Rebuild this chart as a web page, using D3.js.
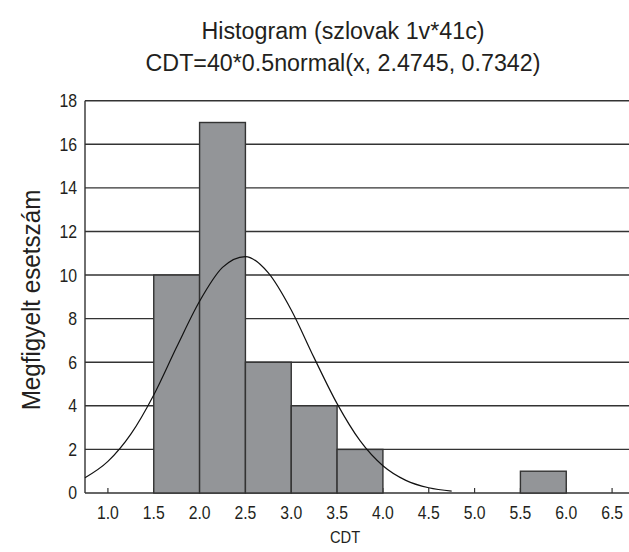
<!DOCTYPE html>
<html>
<head>
<meta charset="utf-8">
<script src="https://cdn.jsdelivr.net/npm/d3@7"></script>
<style>
  body { margin: 0; background: #fff; }
  svg { display: block; }
  text { font-family: "Liberation Sans Narrow", "Arial Narrow", "Liberation Sans", sans-serif; fill: #231f20; }
</style>
</head>
<body>
<div id="chart"></div>
<script>
// histogram bins (lower edge, upper edge, count)
const binStart = [1.5, 2.0, 2.5, 3.0, 3.5, 5.5]
const binEnd = [2.0, 2.5, 3.0, 3.5, 4.0, 6.0]
const counts = [10, 17, 6, 4, 2, 1]

// fitted normal curve
const curveX = [0.75, 1.0, 1.25, 1.5, 1.75, 2.0, 2.25, 2.5, 2.75, 3.0, 3.25, 3.5, 3.75, 4.0, 4.25, 4.5, 4.75]
const curveY = [0.7, 1.45, 2.7, 4.5, 6.7, 8.8, 10.35, 10.85, 10.1, 8.4, 6.2, 4.1, 2.4, 1.25, 0.58, 0.24, 0.09]

const xTicks = [1.0, 1.5, 2.0, 2.5, 3.0, 3.5, 4.0, 4.5, 5.0, 5.5, 6.0, 6.5]
const yTicks = [0, 2, 4, 6, 8, 10, 12, 14, 16, 18]

const width = 629, height = 552

const svg = d3.select("#chart").append("svg")
    .attr("width", width)
    .attr("height", height)

const x = d3.scaleLinear().domain([0.75, 6.75]).range([85, 635])
const y = d3.scaleLinear().domain([0, 18]).range([493, 100.7])

// gridlines
svg.append("g")
    .selectAll("line")
    .data(yTicks)
    .join("line")
    .attr("x1", x(0.75))
    .attr("x2", width)
    .attr("y1", d => y(d))
    .attr("y2", d => y(d))
    .attr("stroke", "#333")
    .attr("stroke-width", 1.4)

// y labels (slightly condensed like the original)
svg.append("g")
    .selectAll("text")
    .data(yTicks)
    .join("text")
    .attr("transform", d => `translate(77,${y(d)}) scale(0.88,1)`)
    .attr("dy", "0.36em")
    .attr("text-anchor", "end")
    .style("font-size", "18px")
    .text(d => d)

// y axis line
svg.append("line")
    .attr("x1", x(0.75)).attr("x2", x(0.75))
    .attr("y1", y(18)).attr("y2", y(0))
    .attr("stroke", "#333")
    .attr("stroke-width", 1.4)

// x ticks (inside)
svg.append("g")
    .selectAll("line")
    .data(xTicks)
    .join("line")
    .attr("x1", d => x(d)).attr("x2", d => x(d))
    .attr("y1", y(0)).attr("y2", y(0) - 5)
    .attr("stroke", "#333")
    .attr("stroke-width", 1.2)

// bars
svg.append("g")
    .selectAll("rect")
    .data(counts)
    .join("rect")
    .attr("x", (d, i) => x(binStart[i]))
    .attr("width", (d, i) => x(binEnd[i]) - x(binStart[i]))
    .attr("y", d => y(d))
    .attr("height", d => y(0) - y(d))
    .attr("fill", "#939598")
    .attr("stroke", "#333")
    .attr("stroke-width", 1.4)

// normal curve
const line = d3.line()
    .x(d => x(d[0]))
    .y(d => y(d[1]))
    .curve(d3.curveMonotoneX)

svg.append("path")
    .attr("d", line(curveX.map((v, i) => [v, curveY[i]])))
    .attr("fill", "none")
    .attr("stroke", "#111")
    .attr("stroke-width", 1.2)

// x labels
svg.append("g")
    .selectAll("text")
    .data(xTicks)
    .join("text")
    .attr("transform", d => `translate(${x(d)},519) scale(0.9,1)`)
    .attr("text-anchor", "middle")
    .style("font-size", "17.5px")
    .text(d => d.toFixed(1))

// titles
svg.append("text")
    .attr("transform", "translate(343,39) scale(0.95,1)")
    .attr("text-anchor", "middle")
    .style("font-size", "24.5px")
    .text("Histogram (szlovak 1v*41c)")

svg.append("text")
    .attr("transform", "translate(343,71) scale(0.95,1)")
    .attr("text-anchor", "middle")
    .style("font-size", "24.5px")
    .text("CDT=40*0.5normal(x, 2.4745, 0.7342)")

svg.append("text")
    .attr("transform", "translate(345,543) scale(0.92,1)")
    .attr("text-anchor", "middle")
    .style("font-size", "16px")
    .text("CDT")

svg.append("text")
    .attr("transform", "translate(40,300) rotate(-90) scale(0.95,1)")
    .attr("text-anchor", "middle")
    .style("font-size", "25.5px")
    .text("Megfigyelt esetszám")
</script>
</body>
</html>
